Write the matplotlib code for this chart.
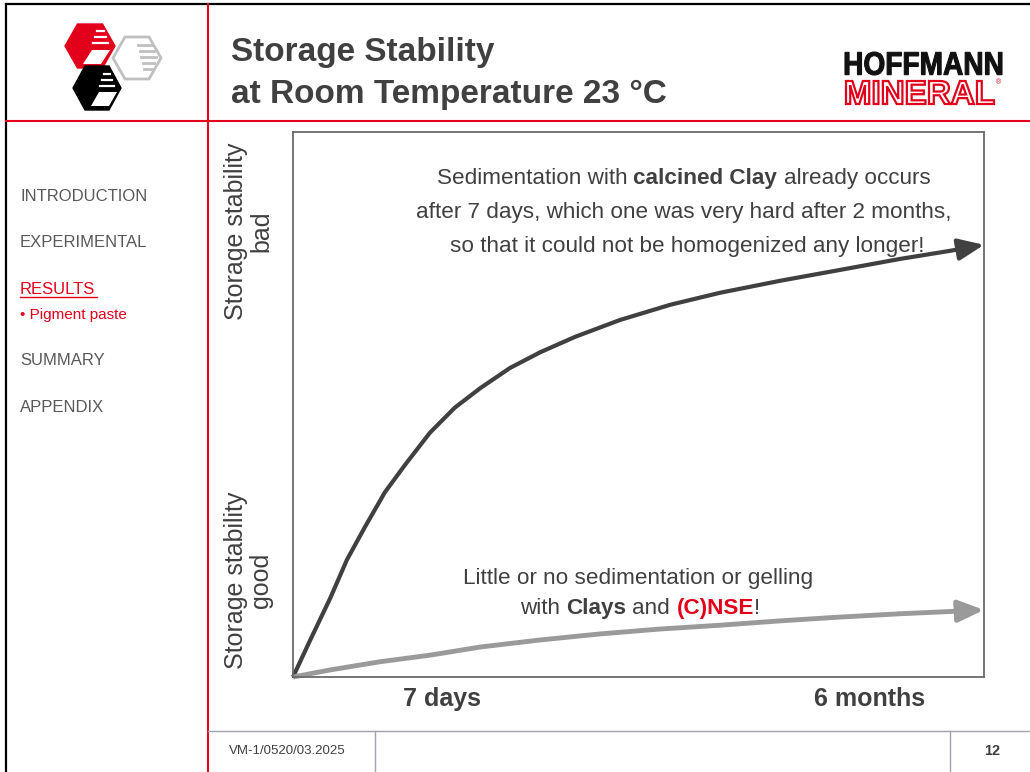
import matplotlib
matplotlib.use("Agg")
import matplotlib.pyplot as plt
import matplotlib.transforms as mtransforms
from matplotlib.patches import Polygon, PathPatch
from matplotlib.textpath import TextPath
from matplotlib.font_manager import FontProperties

plt.rcParams["font.family"] = ["Liberation Sans", "DejaVu Sans"]

# curves (x: 0..100 time axis, y: 0..100 stability axis)
calcined_x = [0, 2.5, 5.4, 7.8, 10.4, 13.3, 16.2, 19.8, 23.4, 27.1, 31.4, 35.8, 40.8,
              47.3, 54.6, 61.8, 70.5, 79.2, 87.8, 95.1, 100]
calcined_y = [0, 6.8, 14.5, 21.5, 27.5, 33.9, 38.9, 44.8, 49.4, 53.0, 56.7, 59.6, 62.4,
              65.5, 68.3, 70.5, 72.7, 74.7, 76.7, 78.2, 79.3]
clays_x = [0, 5.4, 12.6, 19.8, 27.1, 35.8, 44.4, 53.1, 61.8, 70.5, 79.2, 87.8, 100]
clays_y = [0, 1.3, 2.8, 4.0, 5.5, 6.8, 7.9, 8.8, 9.5, 10.3, 11.0, 11.6, 12.3]

tick_pos = [21.6, 83.5]
tick_labels = ["7 days", "6 months"]
ylab_pos = [81.8, 17.8]
ylab_text = ["Storage stability\nbad", "Storage stability\ngood"]

nav_items = ["INTRODUCTION", "EXPERIMENTAL", "RESULTS", "• Pigment paste", "SUMMARY", "APPENDIX"]
nav_base = [201, 247, 294, 319, 365, 412]

DARK = "#404040"
GREY = "#9a9a9a"
RED = "#e2001a"
NAV = "#595959"

W, H = 1030, 772
fig = plt.figure(figsize=(W / 100, H / 100), dpi=100)
fig.patch.set_facecolor("white")

# slide decoration layer in pixel coordinates
deco = fig.add_axes([0, 0, 1, 1])
deco.set_xlim(0, W)
deco.set_ylim(H, 0)
deco.axis("off")

deco.plot([6, 6], [4, H], color="black", lw=1.6)
deco.plot([6, W], [4, 4], color="black", lw=1.6)
deco.plot([208, 208], [4, H], color=RED, lw=1.5)
deco.plot([6, W], [121, 121], color=RED, lw=1.5)
deco.plot([208, W], [731, 731], color="#a0a0b0", lw=1.0)
deco.plot([375, 375], [731, H], color="#a0a0b0", lw=1.0)
deco.plot([950, 950], [731, H], color="#a0a0b0", lw=1.0)


def hexagon(cx, cy, rx, ry):
    return [(cx - rx, cy), (cx - rx / 2, cy - ry), (cx + rx / 2, cy - ry),
            (cx + rx, cy), (cx + rx / 2, cy + ry), (cx - rx / 2, cy + ry)]


# logo: three hexagons
deco.add_patch(Polygon(hexagon(137, 58, 24, 21), closed=True, facecolor="white",
                       edgecolor="#c0c0c0", lw=2))
for k in range(5):
    yy = 45 + k * 6
    deco.plot([138 + k * 1.5, 156 - abs(k - 2) * 2], [yy, yy], color="#c0c0c0", lw=2)
deco.add_patch(Polygon(hexagon(90, 46, 25, 22), closed=True, facecolor=RED, edgecolor=RED))
deco.add_patch(Polygon([(92, 50), (110, 50), (101, 64), (83, 64)], closed=True,
                       facecolor="white", edgecolor="none"))
for k in range(3):
    yy = 31 + k * 6
    deco.plot([97 - k * 2, 104 + k * 2], [yy, yy], color="white", lw=1.6)
deco.add_patch(Polygon(hexagon(97, 88, 24, 22), closed=True, facecolor="black", edgecolor="black"))
deco.add_patch(Polygon([(99, 92), (117, 92), (109, 106), (91, 106)], closed=True,
                       facecolor="white", edgecolor="none"))
for k in range(3):
    yy = 74 + k * 6
    deco.plot([104 - k * 2, 110 + k * 2], [yy, yy], color="white", lw=1.6)


def fitted_text(s, x0, x1, y0, y1, **kw):
    tp = TextPath((0, 0), s, size=1, prop=FontProperties(family="Liberation Sans", weight="bold"))
    ext = tp.get_extents()
    tr = (mtransforms.Affine2D()
          .translate(-ext.x0, -ext.y0)
          .scale((x1 - x0) / ext.width, -(y1 - y0) / ext.height)
          .translate(x0, y1))
    deco.add_patch(PathPatch(tr.transform_path(tp), **kw))


fitted_text("HOFFMANN", 845, 1002, 52, 75, facecolor="#111111", edgecolor="#111111", lw=0.8)
fitted_text("MINERAL", 846, 994, 81, 104, facecolor="white", edgecolor=RED, lw=1.6)
deco.text(998, 83, "®", fontsize=5, color=RED, ha="center", va="center")

# title
deco.text(231, 61, "Storage Stability", fontsize=24, fontweight="bold", color=DARK, va="baseline")
deco.text(231, 103, "at Room Temperature 23 °C", fontsize=24, fontweight="bold", color=DARK,
          va="baseline")

# navigation
for label, yb in zip(nav_items, nav_base):
    active = label in ("RESULTS", "• Pigment paste")
    deco.text(20, yb, label, fontsize=11 if label.startswith("•") else 12,
              color=RED if active else NAV, va="baseline")
deco.plot([20, 97], [297, 297], color=RED, lw=1.0)

# footer
deco.text(229, 751, "VM-1/0520/03.2025", fontsize=9.5, color=DARK, va="center")
deco.text(992, 751, "12", fontsize=10.5, fontweight="bold", color=DARK, va="center", ha="center")

# main chart
ax = fig.add_axes([293 / W, 1 - 677 / H, (984 - 293) / W, (677 - 132) / H])
ax.set_xlim(0, 100)
ax.set_ylim(0, 100)
for sp in ax.spines.values():
    sp.set_color("#6a6a6a")
    sp.set_linewidth(1.3)

ax.plot(calcined_x[:-1], calcined_y[:-1], color=DARK, lw=3.0, solid_capstyle="butt",
        solid_joinstyle="round", clip_on=False)
ax.annotate("", xy=(calcined_x[-1], calcined_y[-1]), xytext=(calcined_x[-2], calcined_y[-2]),
            arrowprops=dict(arrowstyle="-|>,head_length=1.3,head_width=0.55", color=DARK,
                            lw=3.0, shrinkA=0, shrinkB=0, mutation_scale=12),
            annotation_clip=False)
ax.plot(clays_x[:-1], clays_y[:-1], color=GREY, lw=3.5, solid_capstyle="butt",
        solid_joinstyle="round", clip_on=False)
ax.annotate("", xy=(clays_x[-1], clays_y[-1]), xytext=(clays_x[-2], clays_y[-2]),
            arrowprops=dict(arrowstyle="-|>,head_length=1.3,head_width=0.55", color=GREY,
                            lw=3.5, shrinkA=0, shrinkB=0, mutation_scale=12),
            annotation_clip=False)

ax.set_xticks(tick_pos)
ax.set_xticklabels(tick_labels, fontsize=18, fontweight="bold", color=DARK)
ax.tick_params(axis="x", length=0, pad=7)
ax.set_yticks([])

for yp, txt in zip(ylab_pos, ylab_text):
    ax.text(-0.064, yp, txt, transform=ax.get_yaxis_transform(), rotation=90,
            ha="center", va="center", multialignment="center", fontsize=18,
            color=DARK, linespacing=1.05)

renderer = fig.canvas.get_renderer()


def text_width(s, weight, size):
    t = ax.text(0, 0, s, fontsize=size, fontweight=weight)
    w = t.get_window_extent(renderer).width
    t.remove()
    return w


def rich_line(x, y, parts, size=16.2):
    sp = text_width("x x", "normal", size) - text_width("xx", "normal", size)
    spans = []
    for s, wt, c in parts:
        lead = len(s) - len(s.lstrip())
        trail = len(s) - len(s.rstrip())
        spans.append((lead * sp, text_width(s.strip(), wt, size), trail * sp))
    dx = -sum(sum(v) for v in spans) / 2
    for (s, wt, c), (l, w, tr) in zip(parts, spans):
        dx += l
        off = mtransforms.offset_copy(ax.transData, fig=fig, x=dx, y=0, units="dots")
        ax.text(x, y, s.strip(), transform=off, ha="left", va="baseline",
                fontsize=size, fontweight=wt, color=c)
        dx += w + tr


rich_line(56.5, 90.5, [("Sedimentation with ", "normal", DARK), ("calcined Clay", "bold", DARK),
                       (" already occurs", "normal", DARK)])
rich_line(56.6, 84.2, [("after 7 days, which one was very hard after 2 months,", "normal", DARK)])
rich_line(57.0, 78.0, [("so that it could not be homogenized any longer!", "normal", DARK)])
rich_line(49.9, 17.1, [("Little or no sedimentation or gelling", "normal", DARK)])
rich_line(50.2, 11.6, [("with ", "normal", DARK), ("Clays", "bold", DARK), (" and ", "normal", DARK),
                       ("(C)NSE", "bold", RED), ("!", "normal", DARK)])

fig.savefig("out.png", dpi=100, facecolor="white")
